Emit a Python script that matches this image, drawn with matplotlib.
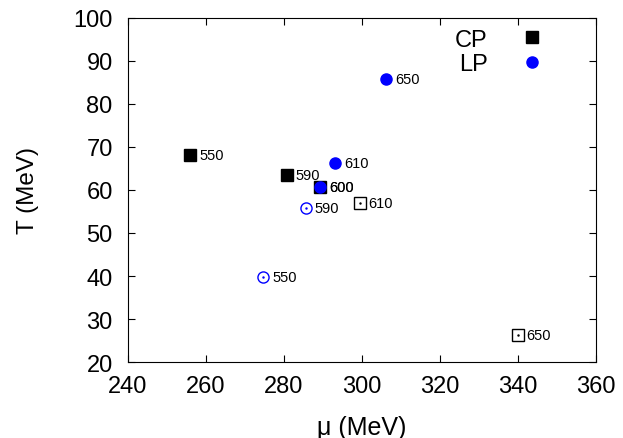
import matplotlib.pyplot as plt

plt.rcParams['font.family'] = ['Liberation Sans', 'DejaVu Sans']

# CP (filled squares) / open squares, LP (filled circles) / open circles
cp_mu = [255.9, 280.7, 289.2]
cp_T = [68.2, 63.4, 60.8]
cp_lab = ['550', '590', '600']

lp_mu = [289.2, 293.2, 306.2]
lp_T = [60.8, 66.2, 85.8]
lp_lab = ['600', '610', '650']

osq_mu = [299.4, 339.9]
osq_T = [57.0, 26.4]
osq_lab = ['610', '650']

oci_mu = [274.6, 285.6]
oci_T = [39.7, 55.9]
oci_lab = ['550', '590']

fig = plt.figure(figsize=(6.23, 4.39), dpi=100)
ax = fig.add_axes([0.2055, 0.173, 0.751, 0.784])

ax.plot(cp_mu, cp_T, ls='', marker='s', ms=8.5, color='black', label='CP', zorder=3)
ax.plot(lp_mu, lp_T, ls='', marker='o', ms=8, color='#0000ff', label='LP', zorder=4)
ax.plot(osq_mu, osq_T, ls='', marker='s', ms=8.5, mfc='none', mec='black', mew=1, zorder=3)
ax.plot(osq_mu, osq_T, ls='', marker='.', ms=1.5, color='black', zorder=3)
ax.plot(oci_mu, oci_T, ls='', marker='o', ms=8, mfc='none', mec='#0000ff', mew=1, zorder=3)
ax.plot(oci_mu, oci_T, ls='', marker='.', ms=1.5, color='#0000ff', zorder=3)

for xs, ys, labs in [(cp_mu, cp_T, cp_lab), (lp_mu, lp_T, lp_lab),
                     (osq_mu, osq_T, osq_lab), (oci_mu, oci_T, oci_lab)]:
    for x, y, s in zip(xs, ys, labs):
        ax.annotate(s, (x, y), xytext=(6.5, 0), textcoords='offset points',
                    fontsize=10.5, va='center', ha='left')

ax.set_xlim(240, 360)
ax.set_ylim(20, 100)
ax.set_xticks(range(240, 361, 20))
ax.set_yticks(range(20, 101, 10))
ax.tick_params('both', direction='in', top=True, right=True, length=5, labelsize=17)
ax.tick_params('x', pad=9)
ax.tick_params('y', pad=11)
ax.set_xlabel('μ (MeV)', fontsize=18, labelpad=13)
ax.set_ylabel('T (MeV)', fontsize=17.5, labelpad=25)

ax.legend(loc='upper right', bbox_to_anchor=(0.92, 1.01), frameon=False, markerfirst=False,
          fontsize=17, handletextpad=1.4, labelspacing=0.1, borderaxespad=0.2,
          handlelength=1.0)

fig.savefig('out.png', dpi=100)
